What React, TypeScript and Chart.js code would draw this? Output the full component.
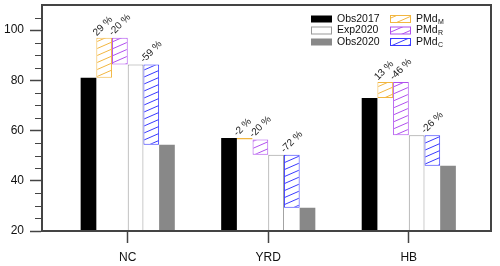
import React, { useEffect, useRef } from 'react';
import { Chart, registerables } from 'chart.js';
Chart.register(...registerables);

const CATEGORIES = ['NC', 'YRD', 'HB'];
const OBS2017 = [81, 57, 73];
const AFTER_M = [97, 56.4, 79.3];
const EXP2020 = [86.3, 50.4, 58.1];
const OBS2020 = [54.3, 29.3, 46];
const PCT_M = ['29 %', '-2 %', '13 %'];
const PCT_R = ['-20 %', '-20 %', '-46 %'];
const PCT_C = ['-59 %', '-72 %', '-26 %'];
const Y_TICKS = [20, 40, 60, 80, 100];
const Y_MIN = 20;
const Y_MAX = 110;
const MINOR_STEP = 5;
const X_MIN = 0.39;
const X_MAX = 3.585;

const FONT = '"Liberation Sans", Arial, Helvetica, sans-serif';
const ORANGE = '#F2B640';
const PURPLE = '#B050EE';
const BLUE = '#3A3AFF';
const GRAY = '#888888';
const AXIS = '#444444';

function makeHatch(color: string) {
  const c = document.createElement('canvas');
  const W = 16, H = 7;
  c.width = W; c.height = H;
  const g = c.getContext('2d')!;
  g.fillStyle = '#ffffff';
  g.fillRect(0, 0, W, H);
  g.strokeStyle = color;
  g.lineWidth = 1;
  for (const dx of [-W, 0, W]) {
    for (const dy of [-H, 0, H]) {
      g.beginPath();
      g.moveTo(dx, dy + H);
      g.lineTo(dx + W, dy);
      g.stroke();
    }
  }
  return g.createPattern(c, 'repeat') as CanvasPattern;
}

const pts = (vals: (number | number[])[]) => vals.map((v, i) => ({ x: i + 1, y: v }));

const decorPlugin = {
  id: 'decor',
  afterDatasetsDraw(chart: any) {
    const ctx = chart.ctx as CanvasRenderingContext2D;
    chart.data.datasets.forEach((ds: any, di: number) => {
      const labels: string[] | undefined = ds.pctLabels;
      if (!labels) return;
      const meta = chart.getDatasetMeta(di);
      meta.data.forEach((el: any, i: number) => {
        const p = el.getProps(['x', 'y', 'base', 'width'], true);
        const top = Math.min(p.y, p.base);
        const left = p.x - p.width / 2;
        ctx.save();
        ctx.translate(left + 0.5, top - 1.5);
        ctx.rotate(-Math.PI / 4);
        ctx.font = `10px ${FONT}`;
        ctx.fillStyle = '#222';
        ctx.textAlign = 'left';
        ctx.textBaseline = 'alphabetic';
        ctx.fillText(labels[i], 0, 0);
        ctx.restore();
      });
    });
  },
  afterDraw(chart: any) {
    const ctx = chart.ctx as CanvasRenderingContext2D;
    const ca = chart.chartArea;
    const yScale = chart.scales.y;
    ctx.save();
    // minor ticks
    ctx.strokeStyle = AXIS;
    ctx.lineWidth = 1;
    for (let v = Y_MIN; v < Y_MAX; v += MINOR_STEP) {
      if (Y_TICKS.includes(v)) continue;
      const py = Math.round(yScale.getPixelForValue(v)) + 0.5;
      ctx.beginPath();
      ctx.moveTo(ca.left - 7, py);
      ctx.lineTo(ca.left, py);
      ctx.stroke();
    }
    // frame
    ctx.lineWidth = 2;
    ctx.strokeRect(ca.left, ca.top, ca.right - ca.left, ca.bottom - ca.top);
    // legend
    const order = [[0, 3, 5], [1, 2, 4]];
    const colX = [ca.right - 180, ca.right - 101];
    order.forEach((col, ci) => {
      col.forEach((di, ri) => {
        const ds = chart.data.datasets[di];
        const bx = colX[ci];
        const cy = ca.top + 14 + ri * 11.5;
        ctx.fillStyle = ds.backgroundColor;
        ctx.fillRect(bx, cy - 3.5, 21, 7);
        if (ds.borderWidth) {
          ctx.strokeStyle = ds.borderColor;
          ctx.lineWidth = 1;
          ctx.strokeRect(bx + 0.5, cy - 3.5, 20, 7);
        }
        const [main, sub] = String(ds.label).split('_');
        ctx.fillStyle = '#111';
        ctx.textAlign = 'left';
        ctx.textBaseline = 'middle';
        ctx.font = `10.5px ${FONT}`;
        const tx = bx + 26;
        ctx.fillText(main, tx, cy);
        if (sub) {
          const w = ctx.measureText(main).width;
          ctx.font = `7px ${FONT}`;
          ctx.fillText(sub, tx + w + 0.5, cy + 3);
        }
      });
    });
    ctx.restore();
  },
};

export default function App() {
  const ref = useRef<HTMLCanvasElement>(null);
  useEffect(() => {
    const canvas = ref.current!;
    const hatchM = makeHatch(ORANGE);
    const hatchR = makeHatch(PURPLE);
    const hatchC = makeHatch(BLUE);
    const chart = new Chart(canvas, {
      type: 'bar',
      data: {
        datasets: [
          { label: 'Obs2017', data: pts(OBS2017), backgroundColor: '#000000', borderWidth: 0 },
          {
            label: 'PMd_M', data: pts(OBS2017.map((v, i) => [v, AFTER_M[i]])),
            backgroundColor: hatchM, borderColor: ORANGE, borderWidth: 1, borderSkipped: false, pctLabels: PCT_M,
          } as any,
          {
            label: 'PMd_R', data: pts(AFTER_M.map((v, i) => [v, EXP2020[i]])),
            backgroundColor: hatchR, borderColor: PURPLE, borderWidth: 1, borderSkipped: false, pctLabels: PCT_R,
          } as any,
          {
            label: 'Exp2020', data: pts(EXP2020), backgroundColor: '#ffffff',
            borderColor: '#999999', borderWidth: 1, borderSkipped: false,
          },
          {
            label: 'PMd_C', data: pts(EXP2020.map((v, i) => [v, OBS2020[i]])),
            backgroundColor: hatchC, borderColor: BLUE, borderWidth: 1, borderSkipped: false, pctLabels: PCT_C,
          } as any,
          { label: 'Obs2020', data: pts(OBS2020), backgroundColor: GRAY, borderWidth: 0 },
        ] as any,
      },
      options: {
        animation: false,
        responsive: true,
        maintainAspectRatio: false,
        datasets: { bar: { categoryPercentage: 0.67, barPercentage: 1 } },
        layout: { padding: { top: 5, right: 9, left: 0, bottom: 0 } },
        plugins: { legend: { display: false }, tooltip: { enabled: false } },
        scales: {
          x: {
            type: 'linear',
            min: X_MIN,
            max: X_MAX,
            offset: false,
            afterBuildTicks: (s: any) => { s.ticks = CATEGORIES.map((_, i) => ({ value: i + 1 })); },
            afterFit: (s: any) => { s.height = 35; s.paddingLeft = 0; s.paddingRight = 0; },
            grid: { drawOnChartArea: false, drawTicks: true, tickLength: 12, tickColor: AXIS, tickWidth: 1.5, offset: false },
            border: { display: true, color: AXIS, width: 2 },
            ticks: {
              callback: (v: any) => CATEGORIES[Math.round(Number(v)) - 1] ?? '',
              font: { size: 12, family: FONT },
              color: '#111',
              padding: 7,
              maxRotation: 0,
              autoSkip: false,
            },
          },
          y: {
            type: 'linear',
            min: Y_MIN,
            max: Y_MAX,
            afterBuildTicks: (s: any) => { s.ticks = Y_TICKS.map((v) => ({ value: v })); },
            afterFit: (s: any) => { s.width = 42; s.paddingTop = 0; s.paddingBottom = 0; },
            grid: { drawOnChartArea: false, drawTicks: true, tickLength: 12, tickColor: AXIS, tickWidth: 1.5 },
            border: { display: true, color: AXIS, width: 2 },
            ticks: { font: { size: 12, family: FONT }, color: '#111', padding: 6 },
          },
        },
      } as any,
      plugins: [decorPlugin],
    });
    return () => chart.destroy();
  }, []);
  return (
    <div style={{ position: 'fixed', left: 0, top: 0, width: 500, height: 266, background: '#fff' }}>
      <canvas ref={ref} />
    </div>
  );
}
